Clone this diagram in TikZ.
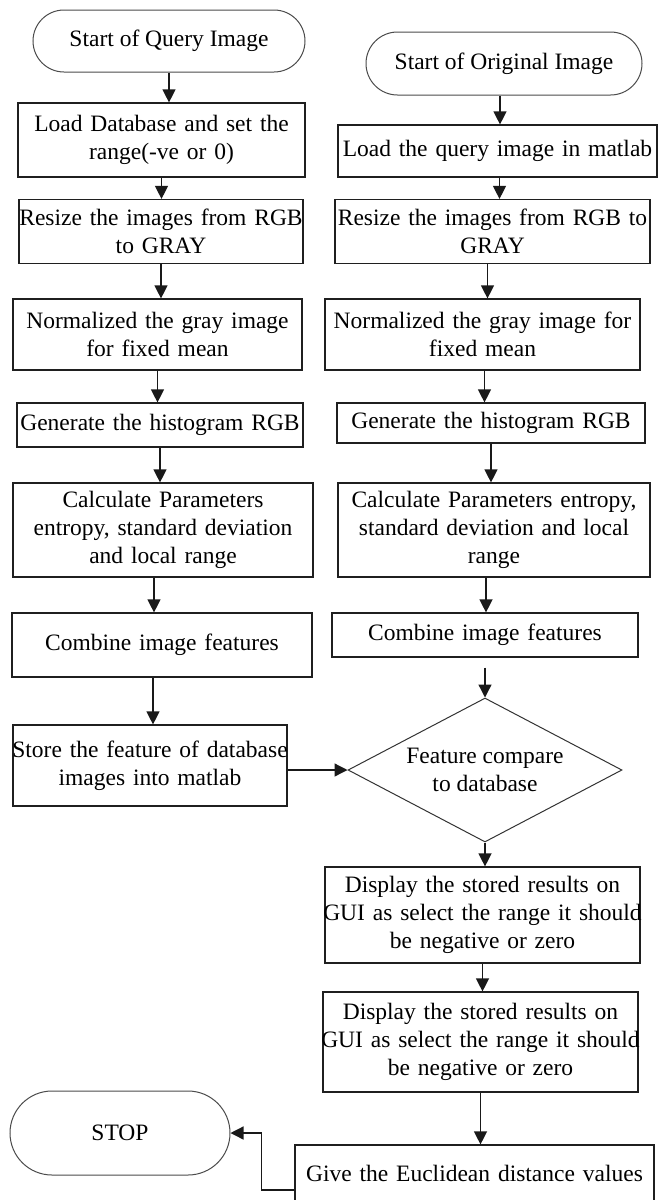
\documentclass[tikz,border=0pt]{standalone}
\usepackage{fontspec}
\setmainfont{Liberation Serif}
\usetikzlibrary{arrows.meta,shapes.geometric}
\newcommand\fsz{\fontsize{23.5}{28}\selectfont}
\newcommand\cl[1]{\makebox[0pt]{#1}}
\begin{document}
\begin{tikzpicture}[x=1pt,y=-1pt,
  box/.style={draw=black!88, line width=1.2pt, inner xsep=0pt, inner ysep=0pt, align=center, font=\fsz, rectangle},
  term/.style={draw=black!70, line width=1pt, inner sep=0pt, align=center, font=\fsz, rectangle},
  decision/.style={draw=black!80, line width=1pt, diamond, aspect=1.9, inner sep=0pt, align=center, font=\fsz},
  arr/.style={-{Triangle[width=13pt,length=13pt]}, line width=1.3pt, draw=black!90}]
\useasboundingbox (0,0) rectangle (659,1200);
\clip (0,0) rectangle (659,1200);
\fill[white] (0,0) rectangle (659,1200);
% left column
\node[term, minimum width=272pt, minimum height=62pt, rounded corners=31pt] (startQ) at (169,41) {Start of Query Image};
\node[box, text width=287pt, minimum height=74pt] (loadDB) at (161.5,140) {\cl{Load Database and set the}\\\cl{range(-ve or 0)}};
\node[box, text width=284pt, minimum height=64pt] (resizeL) at (161,231.5) {\cl{Resize the images from RGB}\\\cl{to GRAY}};
\node[box, text width=289pt, minimum height=71pt] (normL) at (157.5,334.5) {\cl{Normalized the gray image}\\\cl{for fixed mean}};
\node[box, text width=286pt, minimum height=44pt] (genL) at (160,425) {\cl{Generate the histogram RGB}};
\node[box, text width=300pt, minimum height=94pt] (calcL) at (163,530) {\cl{Calculate Parameters}\\\cl{entropy, standard deviation}\\\cl{and local range}};
\node[box, text width=300pt, minimum height=64pt] (combL) at (162,645) {\cl{Combine image features}};
\node[box, text width=274pt, minimum height=81pt] (storeL) at (150,765.5) {\cl{Store the feature of database}\\\cl{images into matlab}};
% right column
\node[term, minimum width=276pt, minimum height=63pt, rounded corners=31.5pt] (startO) at (504,63.5) {Start of Original Image};
\node[box, text width=319pt, minimum height=52pt] (loadQ) at (497.5,151) {\cl{Load the query image in matlab}};
\node[box, text width=315pt, minimum height=64pt] (resizeR) at (492.5,231.5) {\cl{Resize the images from RGB to}\\\cl{GRAY}};
\node[box, text width=315pt, minimum height=71pt] (normR) at (482.5,334.5) {\cl{Normalized the gray image for}\\\cl{fixed mean}};
\node[box, text width=308pt, minimum height=40pt] (genR) at (491,423) {\cl{Generate the histogram RGB}};
\node[box, text width=312pt, minimum height=94pt] (calcR) at (494,530) {\cl{Calculate Parameters entropy,}\\\cl{standard deviation and local}\\\cl{range}};
\node[box, text width=306pt, minimum height=44pt] (combR) at (485,635) {\cl{Combine image features}};
\node[decision, minimum width=274pt, minimum height=144pt] (decide) at (485,770) {Feature compare\\to database};
\node[box, text width=315pt, minimum height=96pt] (disp1) at (482.5,915) {\cl{Display the stored results on}\\\cl{GUI as select the range it should}\\\cl{be negative or zero}};
\node[box, text width=315pt, minimum height=100pt] (disp2) at (480.5,1042) {\cl{Display the stored results on}\\\cl{GUI as select the range it should}\\\cl{be negative or zero}};
\node[box, text width=359pt, minimum height=57pt] (give) at (474.5,1173.5) {\cl{Give the Euclidean distance values}};
\node[term, minimum width=220pt, minimum height=84pt, rounded corners=42pt] (stop) at (120,1133) {STOP};
% connectors left
\draw[arr] (startQ.south) -- (startQ.south |- loadDB.north);
\draw[arr] (loadDB.south) -- (loadDB.south |- resizeL.north);
\draw[arr] (resizeL.south) -- (resizeL.south |- normL.north);
\draw[arr] (normL.south) -- (normL.south |- genL.north);
\draw[arr] (genL.south) -- (genL.south |- calcL.north);
\draw[arr] ([xshift=-9pt]calcL.south) -- ([xshift=-9pt]calcL.south |- combL.north);
\draw[arr] ([xshift=-9pt]combL.south) -- ([xshift=-9pt]combL.south |- storeL.north);
\draw[arr] (storeL.east |- decide.west) -- (decide.west);
% connectors right
\draw[arr] ([xshift=-4pt]startO.south) -- ([xshift=-4pt]startO.south |- loadQ.north);
\draw[arr] ([xshift=2pt]loadQ.south) -- ([xshift=2pt]loadQ.south |- resizeR.north);
\draw[arr] ([xshift=-5pt]resizeR.south) -- ([xshift=-5pt]resizeR.south |- normR.north);
\draw[arr] ([xshift=2pt]normR.south) -- ([xshift=2pt]normR.south |- genR.north);
\draw[arr] (genR.south) -- (genR.south |- calcR.north);
\draw[arr] ([xshift=-8pt]calcR.south) -- ([xshift=-8pt]calcR.south |- combR.north);
\draw[arr] ([yshift=-10pt]combR.south) -- (decide.north);
\draw[arr] (decide.south) -- (decide.south |- disp1.north);
\draw[arr] (disp1.south) -- (disp1.south |- disp2.north);
\draw[arr] (disp2.south) -- (disp2.south |- give.north);
\draw[arr] ([yshift=-16.5pt]give.west) -- ++(-33,0) |- (stop.east);
\end{tikzpicture}
\end{document}
